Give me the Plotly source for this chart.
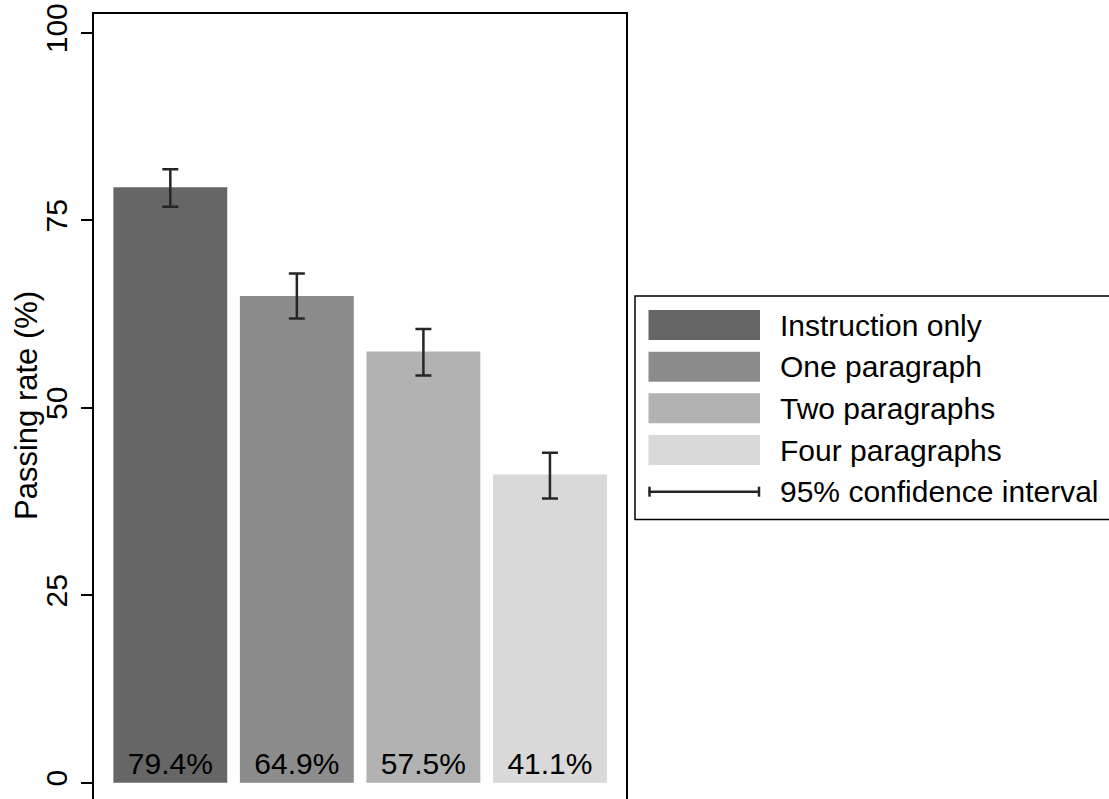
import plotly.graph_objects as go

# ---- data ----
categories = ["Instruction only", "One paragraph", "Two paragraphs", "Four paragraphs"]
passing_rate = [79.4, 64.9, 57.5, 41.1]
ci_plus = [2.4, 3.0, 3.0, 2.9]
ci_minus = [2.6, 3.0, 3.2, 3.2]
bar_colors = ["#666666", "#8c8c8c", "#b2b2b2", "#d9d9d9"]
y_ticks = [0, 25, 50, 75, 100]
legend_ci_label = "95% confidence interval"
y_title = "Passing rate (%)"

# ---- layout geometry (page pixels; body margin removed via post_script) ----
W, H = 1109, 799
L, R, T, B = 94, 626, 14, 799
PW, PH = R - L, B - T
FONT = "Liberation Sans, Arial, sans-serif"
FS = 30


def px(x):
    return (x - L) / PW


def py(y):
    return 1 - (y - T) / PH


fig = go.Figure()
fig.add_trace(go.Bar(
    x=list(range(len(categories))),
    y=passing_rate,
    width=0.9,
    marker=dict(color=bar_colors, line=dict(width=0)),
    error_y=dict(type="data", array=ci_plus, arrayminus=ci_minus,
                 color="#262626", thickness=2.5, width=8),
    texttemplate="%{y:.1f}%",
    textposition="inside",
    insidetextanchor="start",
    textangle=0,
    insidetextfont=dict(family=FONT, size=FS, color="black"),
    showlegend=False,
    hoverinfo="skip",
))

shapes = []
annotations = []

# legend box (runs past the right edge, as in the reference)
shapes.append(dict(type="rect", xref="paper", yref="paper",
                   x0=px(635), x1=px(1140), y0=py(296), y1=py(519.5),
                   line=dict(color="black", width=1.5), fillcolor="white", layer="above"))
row_y = [325, 366.7, 408.3, 450, 491.7]
for i, cat in enumerate(categories):
    yc = row_y[i]
    shapes.append(dict(type="rect", xref="paper", yref="paper",
                       x0=px(648.5), x1=px(760), y0=py(yc - 15), y1=py(yc + 15),
                       line=dict(width=0), fillcolor=bar_colors[i], layer="above"))
    annotations.append(dict(text=cat, xref="paper", yref="paper",
                            x=px(778), y=py(yc), xanchor="left", yanchor="middle",
                            showarrow=False, font=dict(family=FONT, size=FS, color="black")))
yc = row_y[4]
shapes.append(dict(type="line", xref="paper", yref="paper",
                   x0=px(648.5), x1=px(760), y0=py(yc), y1=py(yc),
                   line=dict(color="#262626", width=2.5), layer="above"))
for xx in (649.5, 759):
    shapes.append(dict(type="line", xref="paper", yref="paper",
                       x0=px(xx), x1=px(xx), y0=py(yc - 5), y1=py(yc + 5),
                       line=dict(color="#262626", width=2.5), layer="above"))
annotations.append(dict(text=legend_ci_label, xref="paper", yref="paper",
                        x=px(778), y=py(yc), xanchor="left", yanchor="middle",
                        showarrow=False, font=dict(family=FONT, size=FS, color="black")))

# y title
annotations.append(dict(text=y_title, xref="paper", yref="paper",
                        x=px(26), y=py(406), xanchor="center", yanchor="middle",
                        textangle=-90, showarrow=False,
                        font=dict(family=FONT, size=31, color="black")))

fig.update_layout(
    width=W, height=H,
    margin=dict(l=L, r=W - R, t=T, b=H - B, pad=0, autoexpand=False),
    paper_bgcolor="white", plot_bgcolor="white",
    font=dict(family=FONT, size=FS, color="black"),
    bargap=0.1,
    shapes=shapes,
    annotations=annotations,
    xaxis=dict(range=[-0.603, 3.601], side="top", showline=True, linecolor="black",
               linewidth=1.8, showticklabels=False, ticks="", showgrid=False,
               zeroline=False, fixedrange=True, automargin=False),
    yaxis=dict(range=[-2.17, 102.5], tickvals=y_ticks, ticks="outside", ticklen=11,
               tickwidth=1.5, tickcolor="black", showline=True, linecolor="black",
               linewidth=1.8, mirror=True, showgrid=False, zeroline=False,
               tickangle=-90, ticklabelstandoff=2, ticklabeloverflow="allow",
               tickfont=dict(family=FONT, size=30, color="black"),
               fixedrange=True, automargin=False),
)

fig.write_html(
    "out.html",
    config={"displayModeBar": False},
    post_script="document.body.style.margin='0';document.body.style.overflow='hidden';",
)
